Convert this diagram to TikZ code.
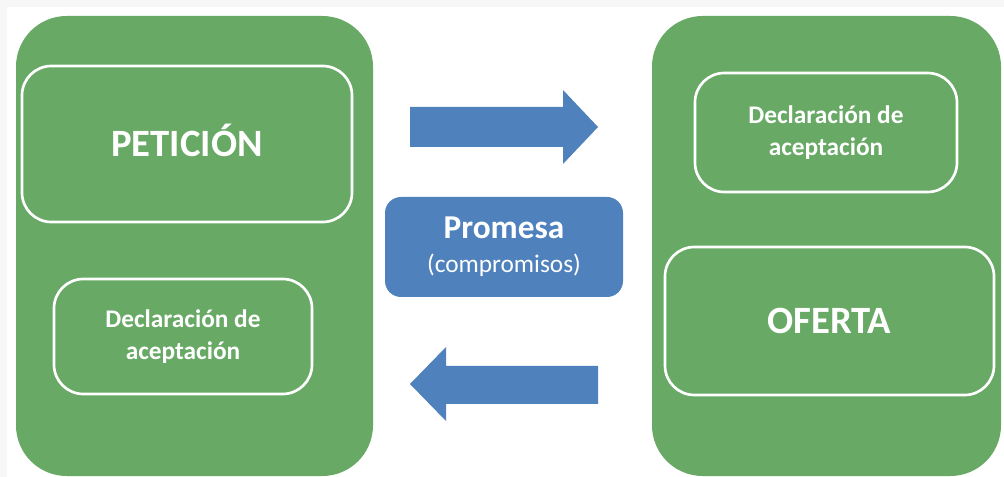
\documentclass[tikz,border=0pt]{standalone}
\usepackage{fontspec}
\setmainfont{Carlito}
\usepackage{xcolor}

\definecolor{panelgreen}{HTML}{67A965}
\definecolor{promblue}{HTML}{4F81BD}
\definecolor{edgegray}{HTML}{F7F7F7}

\begin{document}
\begin{tikzpicture}[x=0.75pt, y=-0.75pt,
		panel/.style = {fill=panelgreen, rounded corners=38pt, inner sep=0pt},
		inbox/.style = {draw=white, line width=2pt, rounded corners=22pt, text=white, align=center, inner sep=0pt},
		bigtxt/.style = {font=\fontsize{29}{35}\selectfont\bfseries, text height=18.6pt, text depth=0pt},
		smalltxt/.style = {font=\fontsize{19}{24.5}\selectfont\bfseries},
		blockarrow/.style = {fill=promblue}]
		
		\useasboundingbox (0,0) rectangle (1004,477);
		\fill [edgegray] (0,0) rectangle (1004,477);
		\fill [white] (7,7) rectangle (1004,477);
		
		\begin{scope}
		\node [panel, minimum width={0.75*357pt}, minimum height={0.75*460pt}] (left) at (194.5,246) {};
		\node [panel, minimum width={0.75*349pt}, minimum height={0.75*460pt}] (right) at (826.5,246) {};
		\end{scope}
		
		\begin{scope}
		\node [inbox, bigtxt, minimum width={0.75*330pt}, minimum height={0.75*156pt}] (peticion) at (187,144) {PETICIÓN};
		\node [inbox, smalltxt, minimum width={0.75*258pt}, minimum height={0.75*115pt}] (declizq) at (183,336.5) {Declaración de\\aceptación};
		\node [inbox, smalltxt, minimum width={0.75*262pt}, minimum height={0.75*119pt}] (declder) at (826,132.5) {Declaración de\\aceptación};
		\node [inbox, bigtxt, minimum width={0.75*329pt}, minimum height={0.75*148pt}] (oferta) at (829.5,321) {OFERTA};
		\end{scope}
		
		\node [fill=promblue, rounded corners=12pt, text=white, align=center, inner sep=0pt,
			font=\fontsize{19}{25.5}\selectfont,
			minimum width={0.75*238pt}, minimum height={0.75*100pt}] (promesa) at (504,247)
			{{\fontsize{25}{25.5}\selectfont\bfseries Promesa}\\(compromisos)};
		
		\begin{scope}[blockarrow]
		\fill (410,107) -- (563,107) -- (563,90) -- (598,127) -- (563,164) -- (563,147) -- (410,147) -- cycle;
		\fill (598,366) -- (446,366) -- (446,347) -- (410,384) -- (446,421) -- (446,404) -- (598,404) -- cycle;
		\end{scope}
	\end{tikzpicture}
\end{document}
